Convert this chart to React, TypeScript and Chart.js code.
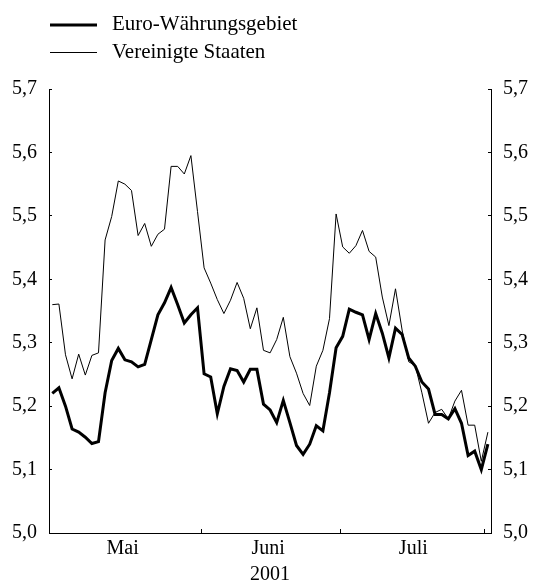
import React, { useEffect, useRef } from 'react';
import { Chart, registerables } from 'chart.js';

Chart.register(...registerables);

// Daily 10-year government bond yields (% p.a.), business days May–July 2001
const euroArea = [
  5.220, 5.229, 5.200, 5.164, 5.159, 5.151, 5.141, 5.144, 5.221, 5.272,
  5.291, 5.273, 5.270, 5.262, 5.266, 5.305, 5.344, 5.363, 5.387, 5.360,
  5.331, 5.344, 5.355, 5.251, 5.246, 5.188, 5.231, 5.259, 5.256, 5.238,
  5.258, 5.258, 5.203, 5.194, 5.174, 5.209, 5.174, 5.138, 5.124, 5.140,
  5.169, 5.161, 5.221, 5.292, 5.310, 5.353, 5.348, 5.344, 5.305, 5.346,
  5.315, 5.276, 5.323, 5.313, 5.276, 5.263, 5.238, 5.227, 5.187, 5.187,
  5.180, 5.196, 5.173, 5.122, 5.129, 5.100, 5.140,
];

const unitedStates = [
  5.360, 5.361, 5.281, 5.243, 5.282, 5.249, 5.280, 5.284, 5.462, 5.499,
  5.555, 5.550, 5.540, 5.469, 5.488, 5.452, 5.471, 5.479, 5.578, 5.578,
  5.566, 5.595, 5.507, 5.418, 5.394, 5.368, 5.346, 5.367, 5.395, 5.370,
  5.322, 5.355, 5.288, 5.284, 5.305, 5.340, 5.278, 5.252, 5.220, 5.201,
  5.263, 5.288, 5.338, 5.503, 5.451, 5.441, 5.453, 5.477, 5.444, 5.435,
  5.372, 5.327, 5.385, 5.320, 5.270, 5.264, 5.221, 5.173, 5.190, 5.195,
  5.180, 5.208, 5.225, 5.170, 5.170, 5.113, 5.159,
];

const seriesLabels = ['Euro-Währungsgebiet', 'Vereinigte Staaten'];
const monthLabels = ['Mai', 'Juni', 'Juli'];
const monthCentres = [10.65, 32.7, 54.7];
const monthBoundaries = [22.6, 43.67, 65.56];
const yearLabel = '2001';
const yTickValues = [5.0, 5.1, 5.2, 5.3, 5.4, 5.5, 5.6, 5.7];
const xMin = -0.5;
const xMax = 66.47;

const FONT = '"Liberation Serif", "Times New Roman", Times, serif';

const legendPlugin = {
  id: 'lineLegend',
  afterDraw(chart: any) {
    const ctx = chart.ctx;
    const rows = [25, 52.5];
    ctx.save();
    chart.data.datasets.forEach((ds: any, k: number) => {
      const y = rows[k];
      ctx.strokeStyle = ds.borderColor;
      ctx.lineWidth = ds.borderWidth;
      ctx.beginPath();
      ctx.moveTo(50, y);
      ctx.lineTo(97, y);
      ctx.stroke();
      ctx.fillStyle = '#000';
      ctx.font = `21px ${FONT}`;
      ctx.textBaseline = 'alphabetic';
      ctx.textAlign = 'left';
      ctx.fillText(ds.label, 112, y + 5);
    });
    ctx.restore();
  },
};

function yAxis(position: 'left' | 'right', width: number) {
  return {
    type: 'linear' as const,
    position,
    min: 5.0,
    max: 5.7,
    afterBuildTicks: (s: any) => {
      s.ticks = yTickValues.map((v) => ({ value: v }));
    },
    afterFit: (s: any) => {
      s.width = width;
    },
    ticks: {
      padding: 15,
      color: '#000',
      font: { family: FONT, size: 20 },
      callback: (_v: any, i: number, ticks: any[]) =>
        ticks[i].value.toFixed(1).replace('.', ','),
    },
    grid: {
      drawOnChartArea: false,
      drawTicks: true,
      tickLength: -3,
      tickColor: '#000',
      tickWidth: 1,
    },
    border: { display: true, color: '#000', width: 1 },
  };
}

export default function App() {
  const ref = useRef<HTMLCanvasElement | null>(null);

  useEffect(() => {
    if (!ref.current) return;
    const xTicks = [...monthCentres, ...monthBoundaries].sort((a, b) => a - b);
    const chart = new Chart(ref.current, {
      type: 'line',
      data: {
        datasets: [
          {
            label: seriesLabels[0],
            data: euroArea.map((v, i) => ({ x: i, y: v })),
            borderColor: '#000',
            borderWidth: 3,
            pointRadius: 0,
            tension: 0,
            fill: false,
          },
          {
            label: seriesLabels[1],
            data: unitedStates.map((v, i) => ({ x: i, y: v })),
            borderColor: '#000',
            borderWidth: 1,
            pointRadius: 0,
            tension: 0,
            fill: false,
          },
        ],
      },
      options: {
        responsive: false,
        animation: false,
        layout: { padding: { top: 89, left: 0, right: 0, bottom: 0 } },
        plugins: {
          legend: { display: false },
          tooltip: { enabled: false },
        },
        scales: {
          x: {
            type: 'linear',
            position: 'bottom',
            min: xMin,
            max: xMax,
            afterBuildTicks: (s: any) => {
              s.ticks = xTicks.map((v) => ({ value: v }));
            },
            afterFit: (s: any) => {
              s.height = 50;
            },
            ticks: {
              autoSkip: false,
              maxRotation: 0,
              minRotation: 0,
              padding: 8,
              color: '#000',
              font: { family: FONT, size: 20 },
              callback: (_v: any, i: number, ticks: any[]) => {
                const k = monthCentres.indexOf(ticks[i].value);
                return k >= 0 ? monthLabels[k] : '';
              },
            },
            grid: {
              drawOnChartArea: false,
              drawTicks: true,
              tickLength: -4,
              tickWidth: 1,
              tickColor: (ctx: any) =>
                ctx.tick && monthBoundaries.includes(ctx.tick.value) ? '#000' : 'rgba(0,0,0,0)',
            },
            border: { display: true, color: '#000', width: 1 },
            title: {
              display: true,
              text: yearLabel,
              color: '#000',
              font: { family: FONT, size: 20, lineHeight: 0.8 },
              padding: 0,
            },
          },
          y: yAxis('left', 49),
          y2: yAxis('right', 47),
        },
      },
      plugins: [legendPlugin],
    } as any);
    return () => chart.destroy();
  }, []);

  return (
    <div style={{ position: 'absolute', left: 0, top: 0, width: 538, height: 583, background: '#fff' }}>
      <canvas ref={ref} width={538} height={583} style={{ display: 'block' }} />
    </div>
  );
}
